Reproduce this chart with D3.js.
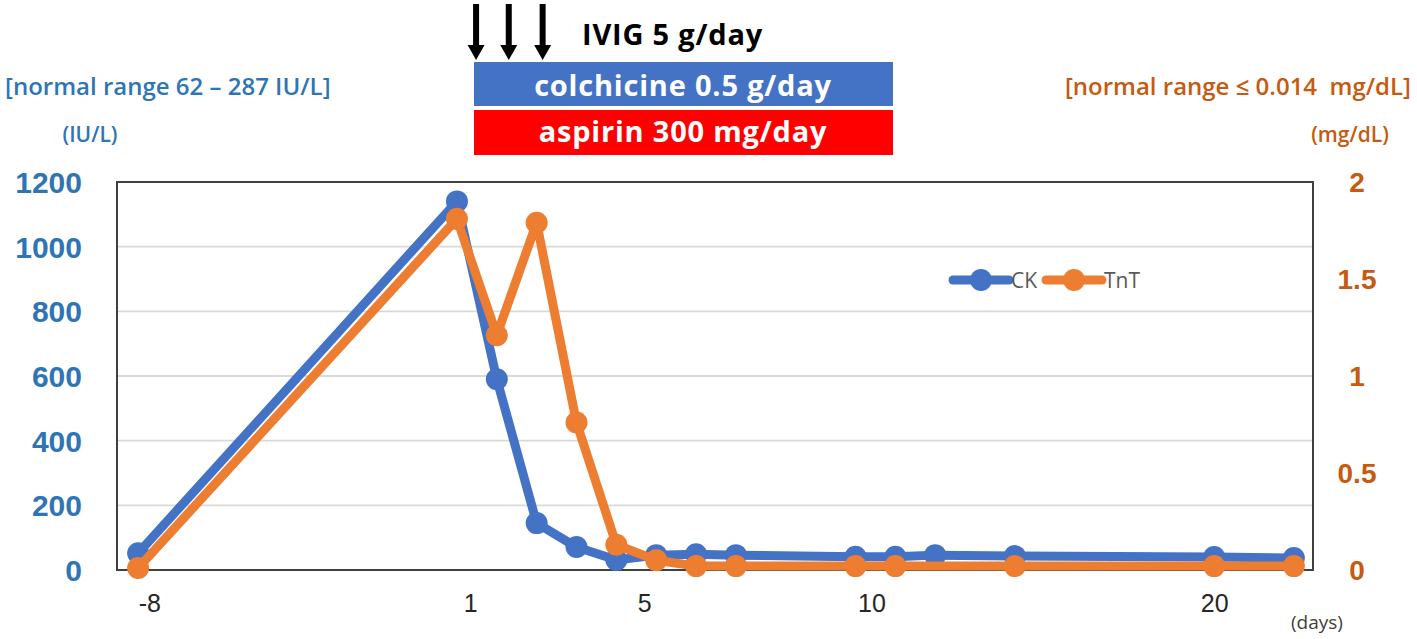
<!DOCTYPE html>
<html>
<head>
<meta charset="utf-8">
<script src="https://cdn.jsdelivr.net/npm/d3@7"></script>
<style>
  html, body { margin: 0; padding: 0; background: #fff; }
  svg { display: block; font-family: "Open Sans", "Noto Sans", sans-serif; }
</style>
</head>
<body>
<svg id="chart" width="1417" height="639"></svg>
<script>
// ---- data ----
const days   = [-8, 1, 2, 3, 4, 5, 6, 7, 8, 11, 12, 13, 15, 20, 22];
const xIndex = [0, 8, 9, 10, 11, 12, 13, 14, 15, 18, 19, 20, 22, 27, 29];
const ckValues  = [52, 1140, 590, 145, 71, 31, 46, 49, 46, 41, 41, 46, 43, 40, 37];
const tntValues = [0.01, 1.81, 1.21, 1.79, 0.76, 0.13, 0.05, 0.02, 0.02, 0.02, 0.02, null, 0.02, 0.02, 0.02];
const xTickLabels = ["-8", "1", "5", "10", "20"];
const xTickValues = [0.28, 8.33, 12.7, 18.4, 27.0];
const leftTicks  = [0, 200, 400, 600, 800, 1000, 1200];
const rightTicks = [0, 0.5, 1, 1.5, 2];
const seriesNames = ["CK", "TnT"];
const arrowIndex = [8.48, 9.3, 10.15];

// ---- layout ----
const svg = d3.select("#chart");
const pLeft = 117, pRight = 1313, pTop = 182, pBottom = 570;
const blue = "#4472C4", orange = "#ED7D31";
const leftColor = "#2E75B6", rightColor = "#C55A11";

const x = d3.scaleLinear().domain([-0.53, 29.48]).range([pLeft, pRight]);
const yL = d3.scaleLinear().domain([0, 1200]).range([pBottom, pTop]);
const yR = d3.scaleLinear().domain([0, 2]).range([pBottom, pTop]);

// gridlines
svg.append("g").selectAll("line").data(leftTicks.filter(d => d > 0 && d < 1200)).join("line")
  .attr("x1", pLeft).attr("x2", pRight)
  .attr("y1", d => yL(d)).attr("y2", d => yL(d))
  .attr("stroke", "#D9D9D9").attr("stroke-width", 1.8);

// plot frame
svg.append("rect").attr("x", pLeft).attr("y", pTop)
  .attr("width", pRight - pLeft).attr("height", pBottom - pTop)
  .attr("fill", "none").attr("stroke", "#404040").attr("stroke-width", 2);

// left axis
const gL = svg.append("g").attr("transform", `translate(${pLeft},0)`)
  .call(d3.axisLeft(yL).tickValues(leftTicks).tickSize(0).tickPadding(35).tickFormat(d3.format("d")));
gL.select(".domain").remove();
gL.selectAll("text").attr("fill", leftColor).style("font-size", "30px").style("font-weight", 600)
  .attr("dy", "0.35em");

// right axis
const gR = svg.append("g").attr("transform", `translate(${pRight},0)`)
  .call(d3.axisRight(yR).tickValues(rightTicks).tickSize(0).tickPadding(44).tickFormat(d => String(d)));
gR.select(".domain").remove();
gR.selectAll("text").attr("fill", rightColor).style("font-size", "28px").style("font-weight", 600)
  .attr("text-anchor", "middle").attr("dy", "0.35em");

// bottom axis
const gB = svg.append("g").attr("transform", `translate(0,${pBottom})`)
  .call(d3.axisBottom(x).tickValues(xTickValues).tickSize(0).tickPadding(24)
    .tickFormat((d, i) => xTickLabels[i]));
gB.select(".domain").remove();
gB.selectAll("text").attr("fill", "#262626").style("font-size", "25px").attr("dy", "0.7em");

svg.append("text").attr("x", 1317).attr("y", 629).attr("text-anchor", "middle")
  .attr("fill", "#404040").style("font-size", "19px").text("(days)");

// series
const ckData = days.map((d, i) => ({ x: xIndex[i], v: ckValues[i] }));
const tntData = days.map((d, i) => ({ x: xIndex[i], v: tntValues[i] })).filter(d => d.v !== null);

const lineL = d3.line().x(d => x(d.x)).y(d => yL(d.v));
const lineR = d3.line().x(d => x(d.x)).y(d => yR(d.v));

function drawSeries(data, line, yScale, color) {
  svg.append("path").datum(data).attr("d", line)
    .attr("fill", "none").attr("stroke", color).attr("stroke-width", 9)
    .attr("stroke-linejoin", "round").attr("stroke-linecap", "round");
  svg.append("g").selectAll("circle").data(data).join("circle")
    .attr("cx", d => x(d.x)).attr("cy", d => yScale(d.v)).attr("r", 11)
    .attr("fill", color);
}
drawSeries(ckData, lineL, yL, blue);
drawSeries(tntData, lineR, yR, orange);

// legend
const legend = [
  { name: seriesNames[0], color: blue, x0: 953 },
  { name: seriesNames[1], color: orange, x0: 1046 }
];
legend.forEach(l => {
  svg.append("line").attr("x1", l.x0).attr("x2", l.x0 + 56).attr("y1", 280).attr("y2", 280)
    .attr("stroke", l.color).attr("stroke-width", 9).attr("stroke-linecap", "round");
  svg.append("circle").attr("cx", l.x0 + 28).attr("cy", 280).attr("r", 11).attr("fill", l.color);
  svg.append("text").attr("x", l.x0 + 58).attr("y", 281).attr("dy", "0.35em")
    .attr("fill", "#595959").style("font-size", "21px").text(l.name);
});

// top-left / top-right annotations
svg.append("text").attr("x", 5).attr("y", 87).attr("dy", "0.35em")
  .attr("fill", leftColor).style("font-size", "24px").style("font-weight", 600)
  .text("[normal range 62 \u2013 287 IU/L]");
svg.append("text").attr("x", 90).attr("y", 135).attr("dy", "0.35em").attr("text-anchor", "middle")
  .attr("fill", leftColor).style("font-size", "21px").style("font-weight", 600).text("(IU/L)");
svg.append("text").attr("x", 1411).attr("y", 87).attr("dy", "0.35em").attr("text-anchor", "end")
  .attr("fill", rightColor).style("font-size", "24px").style("font-weight", 600)
  .style("white-space", "pre")
  .text("[normal range \u2264 0.014  mg/dL]");
svg.append("text").attr("x", 1350).attr("y", 135).attr("dy", "0.35em").attr("text-anchor", "middle")
  .attr("fill", rightColor).style("font-size", "21px").style("font-weight", 600).text("(mg/dL)");

// treatment bars
const barX0 = 474, barX1 = 893;
svg.append("rect").attr("x", barX0).attr("y", 62).attr("width", barX1 - barX0).attr("height", 44).attr("fill", blue);
svg.append("text").attr("x", 683).attr("y", 86).attr("dy", "0.35em").attr("text-anchor", "middle")
  .attr("fill", "#fff").style("font-size", "29px").style("font-weight", 700)
  .style("letter-spacing", "0.8px").text("colchicine 0.5 g/day");
svg.append("rect").attr("x", barX0).attr("y", 110).attr("width", barX1 - barX0).attr("height", 45).attr("fill", "#FF0000");
svg.append("text").attr("x", 683).attr("y", 132).attr("dy", "0.35em").attr("text-anchor", "middle")
  .attr("fill", "#fff").style("font-size", "29px").style("font-weight", 700)
  .style("letter-spacing", "0.8px").text("aspirin 300 mg/day");

// IVIG arrows
arrowIndex.forEach(a => {
  const cx = x(a);
  svg.append("rect").attr("x", cx - 3).attr("y", 4).attr("width", 6).attr("height", 44).attr("fill", "#000");
  svg.append("path").attr("d", `M${cx - 8.5},45 L${cx + 8.5},45 L${cx},60 Z`).attr("fill", "#000");
});
svg.append("text").attr("x", 582).attr("y", 35).attr("dy", "0.35em")
  .attr("fill", "#000").style("font-size", "29px").style("font-weight", 700)
  .style("letter-spacing", "0.8px").text("IVIG 5 g/day");
</script>
</body>
</html>
